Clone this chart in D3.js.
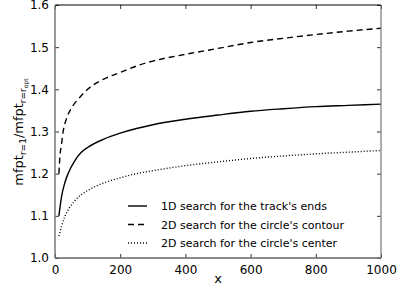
<!DOCTYPE html>
<html><head><meta charset="utf-8">
<script src="https://cdn.jsdelivr.net/npm/d3@7"></script>
<style>body{margin:0;background:#fff}svg{display:block}text{font-family:"DejaVu Sans",sans-serif;fill:#000}</style>
</head><body><svg id="c" width="399" height="292"></svg>
<script>
const xTicks = [0,200,400,600,800,1000];
const yTicks = [1.0,1.1,1.2,1.3,1.4,1.5,1.6];
const seriesNames = ["1D search for the track's ends","2D search for the circle's contour","2D search for the circle's center"];
const solidX = [12,20,30,40,60,80,100,150,200,250,300,400,500,600,700,800,900,1000];
const solidY = [1.10,1.145,1.178,1.20,1.23,1.25,1.262,1.282,1.296,1.307,1.316,1.329,1.339,1.348,1.354,1.359,1.362,1.365];
const dashedX = [12,15,20,25,35,50,75,100,160,200,260,300,400,500,600,700,800,900,1000];
const dashedY = [1.20,1.24,1.27,1.30,1.33,1.355,1.38,1.40,1.428,1.44,1.458,1.467,1.483,1.497,1.511,1.521,1.530,1.538,1.545];
const dottedX = [12,20,30,45,60,80,100,150,200,250,300,400,500,600,700,800,900,1000];
const dottedY = [1.052,1.075,1.098,1.12,1.135,1.15,1.16,1.178,1.19,1.20,1.207,1.219,1.228,1.236,1.242,1.247,1.251,1.255];

const svg = d3.select("#c");
const L=55,R=381,T=5,B=258;
const x = d3.scaleLinear().domain([0,1000]).range([L,R]);
const y = d3.scaleLinear().domain([1.0,1.6]).range([B,T]);

const series = [
  {xs:solidX, ys:solidY, dash:null},
  {xs:dashedX, ys:dashedY, dash:"6,4"},
  {xs:dottedX, ys:dottedY, dash:"1,2"}
];
const line = d3.line().x(d=>x(d[0])).y(d=>y(d[1])).curve(d3.curveMonotoneX);
series.forEach(s=>{
  svg.append("path").datum(s.xs.map((v,i)=>[v,s.ys[i]]))
    .attr("d",line).attr("fill","none").attr("stroke","#000")
    .attr("stroke-width",1.4).attr("stroke-dasharray",s.dash);
});

const fmtY = d3.format(".1f");
const axB = svg.append("g").attr("transform",`translate(0,${B})`)
  .call(d3.axisBottom(x).tickValues(xTicks).tickFormat(d3.format("d")).tickSizeInner(-4).tickSizeOuter(0).tickPadding(7));
const axL = svg.append("g").attr("transform",`translate(${L},0)`)
  .call(d3.axisLeft(y).tickValues(yTicks).tickFormat(fmtY).tickSizeInner(-4).tickSizeOuter(0).tickPadding(6));
const axT = svg.append("g").attr("transform",`translate(0,${T})`)
  .call(d3.axisTop(x).tickValues(xTicks).tickSizeInner(-4).tickSizeOuter(0).tickFormat(""));
const axR = svg.append("g").attr("transform",`translate(${R},0)`)
  .call(d3.axisRight(y).tickValues(yTicks).tickSizeInner(-4).tickSizeOuter(0).tickFormat(""));
[axB,axL,axT,axR].forEach(g=>{
  g.select(".domain").remove();
  g.selectAll("line").attr("stroke","#000").attr("stroke-width",0.8);
  g.selectAll("text").style("font-size","12px").attr("fill","#000");
});
svg.append("line").attr("x1",L).attr("x2",R).attr("y1",T).attr("y2",T).attr("stroke","#000").attr("stroke-width",1);
svg.append("line").attr("x1",L).attr("x2",R).attr("y1",B).attr("y2",B).attr("stroke","#666").attr("stroke-width",1.5);
svg.append("line").attr("x1",L).attr("x2",L).attr("y1",T).attr("y2",B).attr("stroke","#777").attr("stroke-width",1.5);
svg.append("line").attr("x1",R).attr("x2",R).attr("y1",T).attr("y2",B).attr("stroke","#777").attr("stroke-width",1.2);

svg.append("text").attr("x",(L+R)/2).attr("y",283).attr("text-anchor","middle").style("font-size","13px").text("x");
const yl = svg.append("text").attr("transform","translate(23,132) rotate(-90)").attr("text-anchor","middle").style("font-size","13px");
yl.append("tspan").text("mfpt");
yl.append("tspan").attr("dy",3).style("font-size","9px").text("r=1");
yl.append("tspan").attr("dy",-3).text("/mfpt");
yl.append("tspan").attr("dy",3).style("font-size","9px").text("r=r");
yl.append("tspan").attr("dy",2).style("font-size","6px").text("opt");

const lg = svg.append("g");
seriesNames.forEach((n,i)=>{
  const yy = 206 + i*18.5;
  lg.append("line").attr("x1",128).attr("x2",147).attr("y1",yy).attr("y2",yy)
    .attr("stroke","#000").attr("stroke-width",1.4).attr("stroke-dasharray",series[i].dash);
  lg.append("text").attr("x",161).attr("y",yy+4).style("font-size","11px").text(n);
});
</script></body></html>
